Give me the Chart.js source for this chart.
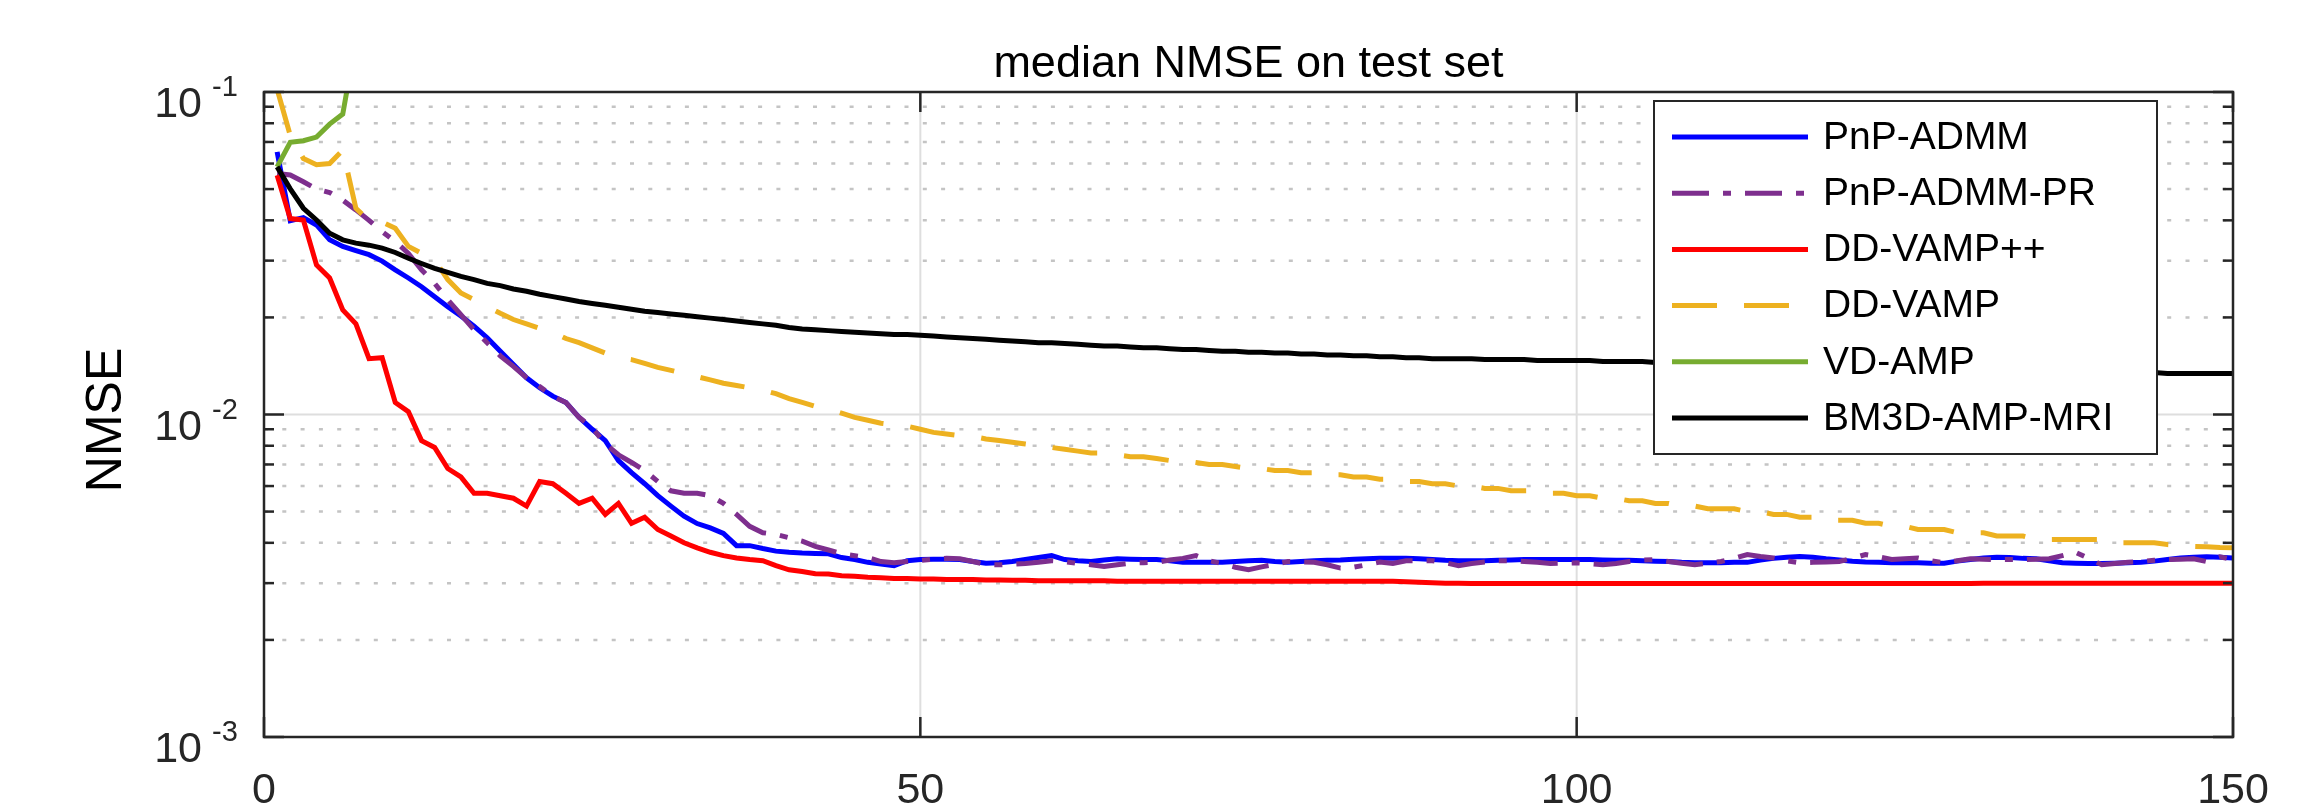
<!DOCTYPE html>
<html lang="en">
  <head>
    <meta charset="UTF-8" />
    <title>median NMSE on test set</title>
    <script src="https://cdn.jsdelivr.net/npm/chart.js@4"></script>
    <style>
      body {
        margin: 0;
        background: #ffffff;
      }
      #wrap {
        width: 2322px;
        height: 810px;
      }
    </style>
  </head>
  <body>
    <div id="wrap"><canvas id="chartNmse" width="2322" height="810"></canvas></div>

    <script>
      // iteration index (x axis)
      const iterations = Array.from({ length: 150 }, (_, k) => k + 1);

      const xTicks = [0, 50, 100, 150];
      const yMajor = [0.001, 0.01, 0.1];
      const yMajorExp = ["-3", "-2", "-1"];
      const yMinor = [
        0.002, 0.003, 0.004, 0.005, 0.006, 0.007, 0.008, 0.009,
        0.02, 0.03, 0.04, 0.05, 0.06, 0.07, 0.08, 0.09,
      ];

      const pnpAdmm = [
        0.0652, 0.0399, 0.0408, 0.0387, 0.0348, 0.0332, 0.0322, 0.0313, 0.0299, 0.0281,
        0.0265, 0.0249, 0.0232, 0.0216, 0.0202, 0.0188, 0.0173, 0.0157, 0.0143, 0.0130,
        0.0121, 0.0114, 0.0109, 0.0098, 0.0090, 0.0083, 0.0072, 0.0066, 0.0061, 0.0056,
        0.0052, 0.00484, 0.00459, 0.00445, 0.00428, 0.00392, 0.00392, 0.00384, 0.00377, 0.00374,
        0.00372, 0.00371, 0.0037, 0.0036, 0.00355, 0.00348, 0.00344, 0.0034, 0.00352, 0.00355,
        0.00356, 0.00356, 0.00355, 0.0035, 0.00346, 0.00347, 0.0035, 0.00355, 0.0036, 0.00365,
        0.00355, 0.00352, 0.0035, 0.00354, 0.00357, 0.00356, 0.00355, 0.00355, 0.00352, 0.00348,
        0.00348, 0.00348, 0.00348, 0.0035, 0.00352, 0.00353, 0.0035, 0.00348, 0.0035, 0.00352,
        0.00353, 0.00354, 0.00356, 0.00357, 0.00358, 0.00358, 0.00358, 0.00357, 0.00355, 0.00353,
        0.00352, 0.00352, 0.00352, 0.00353, 0.00354, 0.00355, 0.00355, 0.00355, 0.00355, 0.00355,
        0.00355, 0.00354, 0.00353, 0.00353, 0.00352, 0.00351, 0.0035, 0.00348, 0.00347, 0.00347,
        0.00347, 0.00348, 0.00348, 0.00354, 0.00358, 0.00361, 0.00363, 0.00361, 0.00357, 0.00354,
        0.00351, 0.00349, 0.00348, 0.00347, 0.00347, 0.00347, 0.00346, 0.00346, 0.00351, 0.00355,
        0.00359, 0.00361, 0.0036, 0.00358, 0.00357, 0.00352, 0.00347, 0.00346, 0.00345, 0.00345,
        0.00346, 0.00347, 0.00348, 0.00351, 0.00355, 0.00359, 0.00361, 0.00362, 0.00361, 0.00359,
      ];

      const pnpAdmmPr = [
        0.0559, 0.0553, 0.0527, 0.050, 0.0488, 0.0462, 0.0431, 0.040, 0.0369, 0.0344,
        0.0316, 0.0281, 0.0255, 0.0227, 0.0204, 0.0183, 0.0167, 0.0152, 0.0141, 0.0130,
        0.0122, 0.0114, 0.0109, 0.0098, 0.0091, 0.0081, 0.0075, 0.0071, 0.0067, 0.0062,
        0.0058, 0.0057, 0.0057, 0.0056, 0.0053, 0.0049, 0.0045, 0.0043, 0.00425, 0.00415,
        0.00405, 0.0039, 0.0038, 0.0037, 0.00365, 0.0036, 0.0035, 0.00347, 0.0035, 0.00353,
        0.00356, 0.00358, 0.00357, 0.0035, 0.00343, 0.00342, 0.00343, 0.00345, 0.00348, 0.00352,
        0.0035, 0.00345, 0.00342, 0.00338, 0.00342, 0.00346, 0.00347, 0.00348, 0.00354, 0.00358,
        0.00365, 0.00352, 0.00345, 0.00336, 0.0033, 0.00337, 0.00343, 0.0035, 0.00349, 0.00348,
        0.00342, 0.00334, 0.00336, 0.00342, 0.00349, 0.00345, 0.00352, 0.00352, 0.00352, 0.00347,
        0.0034, 0.00345, 0.00349, 0.00352, 0.00352, 0.0035, 0.00348, 0.00345, 0.00346, 0.00347,
        0.00345, 0.00342, 0.00345, 0.0035, 0.00354, 0.00355, 0.0035, 0.00346, 0.00342, 0.00346,
        0.0035, 0.00358, 0.00368, 0.00363, 0.00359, 0.00352, 0.00347, 0.00348, 0.00349, 0.0035,
        0.00358, 0.00368, 0.00362, 0.00355, 0.00357, 0.00359, 0.00352, 0.00347, 0.00352, 0.00357,
        0.00356, 0.00355, 0.00355, 0.00355, 0.00356, 0.00357, 0.00365, 0.00374, 0.00358, 0.00342,
        0.00345, 0.00348, 0.0035, 0.00353, 0.00355, 0.00356, 0.00357, 0.0035, 0.00362, 0.00355,
      ];

      const ddVampPp = [
        0.0552, 0.0405, 0.0401, 0.0291, 0.0265, 0.0211, 0.0191, 0.0149, 0.0150, 0.0109,
        0.0102, 0.0083, 0.0079, 0.0068, 0.0064, 0.0057, 0.0057, 0.0056, 0.0055, 0.0052,
        0.0062, 0.0061, 0.0057, 0.0053, 0.0055, 0.0049, 0.0053, 0.0046, 0.0048, 0.0044,
        0.0042, 0.0040, 0.00386, 0.00374, 0.00365, 0.00359, 0.00355, 0.00352, 0.0034, 0.0033,
        0.00326, 0.00321, 0.0032, 0.00316, 0.00315, 0.00313, 0.00312, 0.0031, 0.0031, 0.00309,
        0.00309, 0.00308, 0.00308, 0.00308, 0.00307, 0.00307, 0.00306, 0.00306, 0.00305, 0.00305,
        0.00305, 0.00305, 0.00305, 0.00305, 0.00304, 0.00304, 0.00304, 0.00304, 0.00304, 0.00304,
        0.00304, 0.00304, 0.00304, 0.00304, 0.00304, 0.00304, 0.00304, 0.00304, 0.00304, 0.00304,
        0.00304, 0.00304, 0.00304, 0.00304, 0.00304, 0.00304, 0.00303, 0.00302, 0.00301, 0.003,
        0.003, 0.00299, 0.00299, 0.00299, 0.00299, 0.00299, 0.00299, 0.00299, 0.00299, 0.00299,
        0.00299, 0.00299, 0.00299, 0.00299, 0.00299, 0.00299, 0.00299, 0.00299, 0.00299, 0.00299,
        0.00299, 0.00299, 0.00299, 0.00299, 0.00299, 0.00299, 0.00299, 0.00299, 0.00299, 0.00299,
        0.00299, 0.00299, 0.00299, 0.00299, 0.00299, 0.00299, 0.00299, 0.00299, 0.00299, 0.00299,
        0.003, 0.003, 0.003, 0.003, 0.003, 0.003, 0.003, 0.003, 0.003, 0.003,
        0.003, 0.003, 0.003, 0.003, 0.003, 0.003, 0.003, 0.003, 0.003, 0.003,
      ];

      const ddVamp = [
        0.102, 0.0733, 0.0622, 0.0595, 0.060, 0.066, 0.0436, 0.0398, 0.0395, 0.0378,
        0.0332, 0.0316, 0.0301, 0.0262, 0.0238, 0.0227, 0.0216, 0.0206, 0.0197, 0.0191,
        0.0185, 0.0180, 0.0172, 0.0167, 0.0161, 0.0155, 0.0150, 0.0148, 0.0144, 0.0140,
        0.0137, 0.0134, 0.0131, 0.0128, 0.0125, 0.0123, 0.0121, 0.0119, 0.0116, 0.0112,
        0.0109, 0.0106, 0.0104, 0.0101, 0.0098, 0.0096, 0.0094, 0.0093, 0.0092, 0.0090,
        0.0088, 0.0087, 0.0086, 0.00855, 0.0084, 0.0083, 0.0082, 0.0081, 0.0080, 0.0079,
        0.0078, 0.0077, 0.0076, 0.0076, 0.0075, 0.0074, 0.0074, 0.0073, 0.0072, 0.0072,
        0.0071, 0.0070, 0.0070, 0.0069, 0.0068, 0.0068, 0.0067, 0.0067, 0.0066, 0.0066,
        0.0065, 0.0065, 0.0064, 0.0064, 0.0063, 0.0063, 0.0062, 0.0062, 0.0061, 0.0061,
        0.0060, 0.0060, 0.0059, 0.0059, 0.0058, 0.0058, 0.0058, 0.0057, 0.0057, 0.0056,
        0.0056, 0.0055, 0.0055, 0.0054, 0.0054, 0.0053, 0.0053, 0.0052, 0.0052, 0.0051,
        0.0051, 0.0051, 0.0050, 0.0050, 0.0049, 0.0049, 0.0048, 0.0048, 0.0047, 0.0047,
        0.0047, 0.0046, 0.0046, 0.0045, 0.0045, 0.0044, 0.0044, 0.0044, 0.0043, 0.0043,
        0.0043, 0.0042, 0.0042, 0.0042, 0.0041, 0.0041, 0.0041, 0.0041, 0.0041, 0.0041,
        0.0040, 0.0040, 0.0040, 0.0040, 0.00395, 0.00393, 0.0039, 0.00389, 0.00387, 0.00386,
      ];

      const vdAmp = [0.0586, 0.0698, 0.0706, 0.0725, 0.0795, 0.0854, 0.145];

      const bm3dAmpMri = [
        0.0586, 0.0501, 0.0436, 0.0401, 0.0365, 0.0348, 0.034, 0.0335, 0.0328, 0.0318,
        0.0305, 0.0294, 0.0284, 0.0276, 0.0268, 0.0262, 0.0255, 0.0251, 0.0245, 0.0241,
        0.0236, 0.0232, 0.0228, 0.0224, 0.0221, 0.0218, 0.0215, 0.0212, 0.0209, 0.0207,
        0.0205, 0.0203, 0.0201, 0.0199, 0.0197, 0.0195, 0.0193, 0.0191, 0.0189, 0.0186,
        0.0184, 0.0183, 0.0182, 0.0181, 0.0180, 0.0179, 0.0178, 0.0177, 0.0177, 0.0176,
        0.0175, 0.0174, 0.0173, 0.0172, 0.0171, 0.0170, 0.0169, 0.0168, 0.0167, 0.0167,
        0.0166, 0.0165, 0.0164, 0.0163, 0.0163, 0.0162, 0.0161, 0.0161, 0.0160, 0.0159,
        0.0159, 0.0158, 0.0157, 0.0157, 0.0156, 0.0156, 0.0155, 0.0155, 0.0154, 0.0154,
        0.0153, 0.0153, 0.0152, 0.0152, 0.0151, 0.0151, 0.0150, 0.0150, 0.0149, 0.0149,
        0.0149, 0.0149, 0.0148, 0.0148, 0.0148, 0.0148, 0.0147, 0.0147, 0.0147, 0.0147,
        0.0147, 0.0146, 0.0146, 0.0146, 0.0146, 0.0145, 0.0145, 0.0145, 0.0144, 0.0144,
        0.0144, 0.0143, 0.0143, 0.0143, 0.0142, 0.0142, 0.0142, 0.0141, 0.0141, 0.0141,
        0.0140, 0.0140, 0.0140, 0.0139, 0.0139, 0.0139, 0.0139, 0.0138, 0.0138, 0.0138,
        0.0137, 0.0137, 0.0137, 0.0137, 0.0136, 0.0136, 0.0136, 0.0136, 0.0135, 0.0135,
        0.0135, 0.0135, 0.0135, 0.0135, 0.0134, 0.0134, 0.0134, 0.0134, 0.0134, 0.0134,
      ];

      const series = [
        { label: "PnP-ADMM", values: pnpAdmm, color: "#0000ff", dash: [] },
        { label: "PnP-ADMM-PR", values: pnpAdmmPr, color: "#7e2f8e", dash: [37, 14, 8, 14] },
        { label: "DD-VAMP++", values: ddVampPp, color: "#ff0000", dash: [] },
        { label: "DD-VAMP", values: ddVamp, color: "#edb120", dash: [45, 27] },
        { label: "VD-AMP", values: vdAmp, color: "#77ac30", dash: [] },
        { label: "BM3D-AMP-MRI", values: bm3dAmpMri, color: "#000000", dash: [] },
      ];

      const font = '"Liberation Sans", Arial, Helvetica, sans-serif';
      const axisColor = "#262626";

      function seg(ctx, x1, y1, x2, y2) {
        ctx.beginPath();
        ctx.moveTo(x1, y1);
        ctx.lineTo(x2, y2);
        ctx.stroke();
      }

      // matlab style box, grid, ticks, labels and legend
      const matlabAxes = {
        id: "matlabAxes",
        beforeDatasetsDraw(chart) {
          const { ctx, chartArea: a, scales } = chart;
          ctx.save();
          ctx.lineWidth = 2.5;
          ctx.strokeStyle = "#c4c4c4";
          ctx.setLineDash([4, 14.3]);
          yMinor.forEach((v) => {
            const py = scales.y.getPixelForValue(v);
            seg(ctx, a.left, py, a.right, py);
          });
          ctx.setLineDash([]);
          ctx.lineWidth = 2;
          ctx.strokeStyle = "#dedede";
          seg(ctx, a.left, scales.y.getPixelForValue(0.01), a.right, scales.y.getPixelForValue(0.01));
          xTicks.slice(1, -1).forEach((v) => {
            const px = scales.x.getPixelForValue(v);
            seg(ctx, px, a.top, px, a.bottom);
          });
          ctx.restore();
        },
        afterDatasetsDraw(chart) {
          const { ctx, chartArea: a, scales } = chart;
          ctx.save();
          ctx.strokeStyle = axisColor;
          ctx.lineWidth = 2.5;
          ctx.strokeRect(a.left, a.top, a.right - a.left, a.bottom - a.top);

          xTicks.forEach((v) => {
            const px = scales.x.getPixelForValue(v);
            seg(ctx, px, a.bottom, px, a.bottom - 20);
            seg(ctx, px, a.top, px, a.top + 20);
          });
          yMajor.forEach((v) => {
            const py = scales.y.getPixelForValue(v);
            seg(ctx, a.left, py, a.left + 20, py);
            seg(ctx, a.right, py, a.right - 20, py);
          });
          yMinor.forEach((v) => {
            const py = scales.y.getPixelForValue(v);
            seg(ctx, a.left, py, a.left + 10, py);
            seg(ctx, a.right, py, a.right - 10, py);
          });

          // tick labels
          ctx.fillStyle = axisColor;
          ctx.font = "43px " + font;
          ctx.textAlign = "center";
          ctx.textBaseline = "alphabetic";
          xTicks.forEach((v) => {
            ctx.fillText(String(v), scales.x.getPixelForValue(v), 803);
          });
          yMajor.forEach((v, k) => {
            const py = scales.y.getPixelForValue(v);
            ctx.font = "43px " + font;
            ctx.textAlign = "right";
            ctx.fillText("10", 202, py + 25);
            ctx.font = "29px " + font;
            ctx.textAlign = "left";
            ctx.fillText(yMajorExp[k], 212, py + 4);
          });

          // title and axis label
          ctx.fillStyle = "#000000";
          ctx.textAlign = "center";
          ctx.font = "45px " + font;
          ctx.fillText("median NMSE on test set", (a.left + a.right) / 2, 77);
          ctx.save();
          ctx.translate(107, 420);
          ctx.rotate(-Math.PI / 2);
          ctx.textBaseline = "middle";
          ctx.font = "50px " + font;
          ctx.fillText("NMSE", 0, 0);
          ctx.restore();

          // legend
          const box = { x: 1654, y: 101, w: 503, h: 353 };
          ctx.fillStyle = "#ffffff";
          ctx.fillRect(box.x, box.y, box.w, box.h);
          ctx.strokeStyle = axisColor;
          ctx.lineWidth = 2;
          ctx.strokeRect(box.x, box.y, box.w, box.h);
          ctx.font = "39px " + font;
          ctx.textAlign = "left";
          ctx.textBaseline = "middle";
          series.forEach((s, k) => {
            const ry = 137 + k * 56.2;
            ctx.strokeStyle = s.color;
            ctx.lineWidth = 5;
            ctx.setLineDash(s.dash);
            seg(ctx, 1672, ry, 1808, ry);
            ctx.setLineDash([]);
            ctx.fillStyle = "#000000";
            ctx.fillText(s.label, 1823, ry + 1);
          });
          ctx.restore();
        },
      };

      const ctxNmse = document.getElementById("chartNmse");
      new Chart(ctxNmse, {
        type: "line",
        data: {
          datasets: series.map((s, k) => ({
            label: s.label,
            data: s.values.map((v, i) => ({ x: iterations[i], y: v })),
            borderColor: s.color,
            borderWidth: 5,
            borderDash: s.dash,
            pointRadius: 0,
            tension: 0,
            fill: false,
            order: -k,
          })),
        },
        options: {
          responsive: false,
          animation: false,
          devicePixelRatio: 1,
          layout: { padding: { top: 92, right: 89, left: 0, bottom: 0 } },
          plugins: {
            legend: { display: false },
            title: { display: false },
            tooltip: { enabled: false },
          },
          scales: {
            x: {
              type: "linear",
              min: 0,
              max: 150,
              grid: { display: false },
              border: { display: false },
              ticks: { display: false },
              afterFit: (s) => {
                s.height = 73;
              },
            },
            y: {
              type: "logarithmic",
              min: 0.001,
              max: 0.1,
              grid: { display: false },
              border: { display: false },
              ticks: { display: false },
              afterFit: (s) => {
                s.width = 264;
              },
            },
          },
        },
        plugins: [matlabAxes],
      });
    </script>
  </body>
</html>
